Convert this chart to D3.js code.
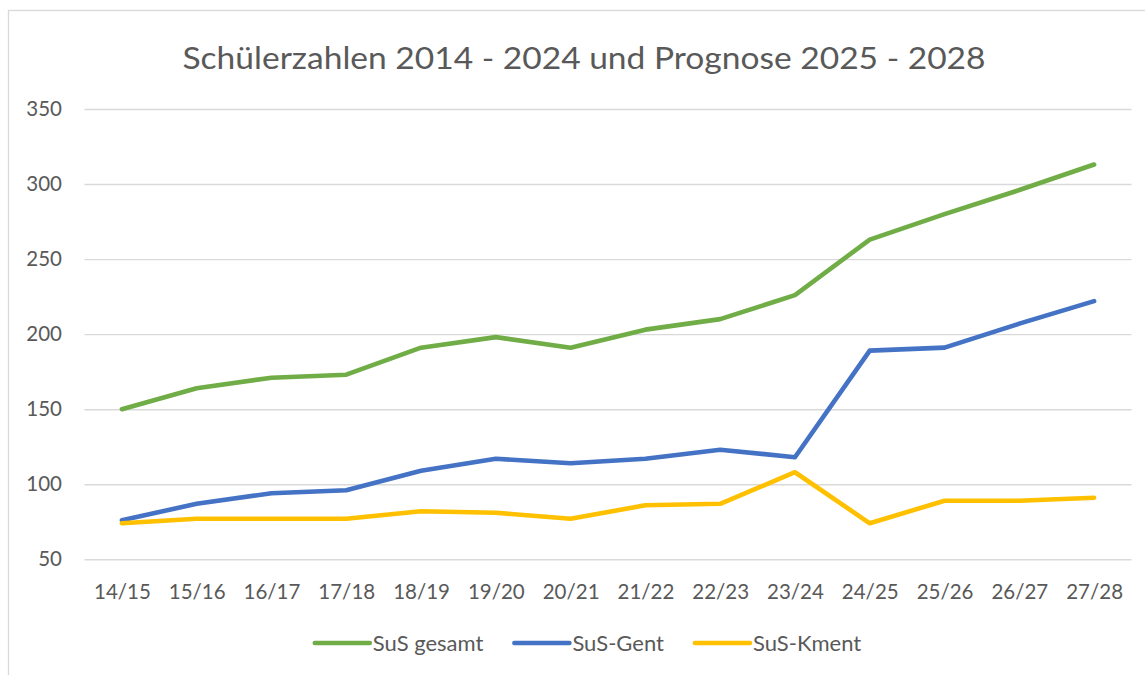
<!DOCTYPE html>
<html>
<head>
<meta charset="utf-8">
<script src="https://cdn.jsdelivr.net/npm/d3@7"></script>
<style>
  html, body { margin: 0; padding: 0; background: #fff; }
  svg { display: block; }
</style>
</head>
<body>
<svg id="chart" width="1145" height="675"></svg>
<script>
const categories = ["14/15","15/16","16/17","17/18","18/19","19/20","20/21","21/22","22/23","23/24","24/25","25/26","26/27","27/28"];
const susGesamt = [150,164,171,173,191,198,191,203,210,226,263,280,296,313];
const susGent   = [76,87,94,96,109,117,114,117,123,118,189,191,207,222];
const susKment  = [74,77,77,77,82,81,77,86,87,108,74,89,89,91];
const yTicks = [50,100,150,200,250,300,350];
const seriesNames = ["SuS gesamt","SuS-Gent","SuS-Kment"];
const titleText = "Schülerzahlen 2014 - 2024 und Prognose 2025 - 2028";

const colors = ["#70AD47","#4472C4","#FFC000"];
const seriesData = [susGesamt, susGent, susKment];
const font = "Lato, 'Open Sans', sans-serif";
const textColor = "#595959";

const svg = d3.select("#chart");

// outer chart border
svg.append("rect")
  .attr("x", 8.5).attr("y", 10.5)
  .attr("width", 1160).attr("height", 700)
  .attr("fill", "#fff").attr("stroke", "#d9d9d9").attr("stroke-width", 1.3);

const plotLeft = 84.5, plotRight = 1131.5, plotTop = 109, plotBottom = 559.3;

const x = d3.scalePoint().domain(categories).range([plotLeft, plotRight]).padding(0.5);
const y = d3.scaleLinear().domain([50, 350]).range([plotBottom, plotTop]);

// title
svg.append("text")
  .attr("x", 584).attr("y", 69)
  .attr("text-anchor", "middle")
  .attr("font-family", font).attr("font-size", 31)
  .attr("fill", textColor)
  .attr("textLength", 803).attr("lengthAdjust", "spacingAndGlyphs")
  .text(titleText);

// y axis with gridlines
const yAxis = svg.append("g")
  .attr("transform", `translate(${plotLeft},0)`)
  .call(d3.axisLeft(y).tickValues(yTicks).tickSize(-(plotRight - plotLeft)).tickPadding(22.5));
yAxis.select(".domain").remove();
yAxis.selectAll(".tick line").attr("stroke", "#d9d9d9").attr("stroke-width", 1.4);
yAxis.selectAll(".tick text")
  .attr("font-family", font).attr("font-size", 20.5).attr("fill", textColor);

// x axis
const xAxis = svg.append("g")
  .attr("transform", `translate(0,${plotBottom})`)
  .call(d3.axisBottom(x).tickSize(0).tickPadding(25));
xAxis.select(".domain").remove();
xAxis.selectAll(".tick text")
  .attr("font-family", font).attr("font-size", 20.5).attr("fill", textColor);

// lines
const line = d3.line().x((d, i) => x(categories[i])).y(d => y(d));
seriesData.forEach((s, k) => {
  svg.append("path")
    .datum(s)
    .attr("d", line)
    .attr("fill", "none")
    .attr("stroke", colors[k])
    .attr("stroke-width", 4.6)
    .attr("stroke-linecap", "round")
    .attr("stroke-linejoin", "round");
});

// legend
const legend = svg.append("g");
const sampleW = 55, gapText = 3, gapItem = 31, legendY = 643;
let cx = 0;
seriesNames.forEach((name, k) => {
  const g = legend.append("g");
  g.append("line")
    .attr("x1", cx).attr("x2", cx + sampleW)
    .attr("y1", legendY).attr("y2", legendY)
    .attr("stroke", colors[k]).attr("stroke-width", 4.6).attr("stroke-linecap", "round");
  const t = g.append("text")
    .attr("x", cx + sampleW + gapText).attr("y", legendY)
    .attr("dy", "0.35em")
    .attr("font-family", font).attr("font-size", 22).attr("fill", textColor)
    .text(name);
  const w = t.node().getComputedTextLength();
  cx += sampleW + gapText + w + gapItem;
});
const totalW = cx - gapItem;
legend.attr("transform", `translate(${588 - totalW / 2},0)`);
</script>
</body>
</html>
